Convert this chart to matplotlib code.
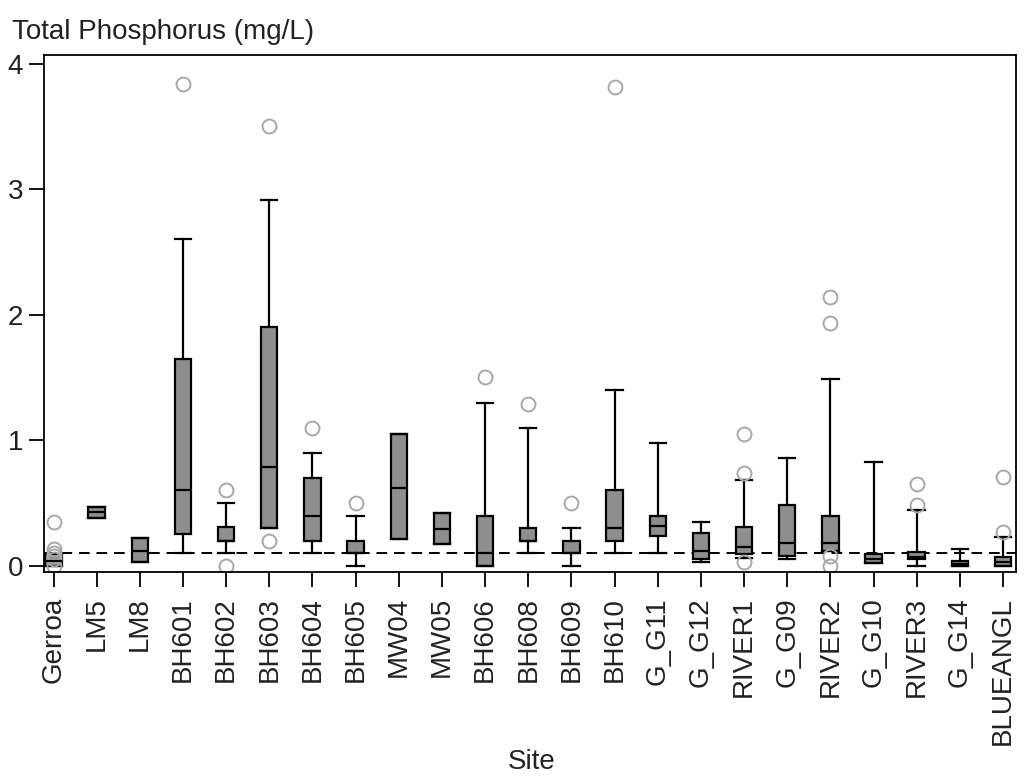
import matplotlib
matplotlib.use('Agg')
import matplotlib.pyplot as plt

plt.rcParams['font.family'] = ['Liberation Sans', 'DejaVu Sans']

sites = ['Gerroa', 'LM5', 'LM8', 'BH601', 'BH602', 'BH603', 'BH604', 'BH605',
         'MW04', 'MW05', 'BH606', 'BH608', 'BH609', 'BH610', 'G_G11', 'G_G12',
         'RIVER1', 'G_G09', 'RIVER2', 'G_G10', 'RIVER3', 'G_G14', 'BLUEANGL']

q1 = [0.00, 0.38, 0.03, 0.25, 0.20, 0.30, 0.20, 0.10, 0.21, 0.17, 0.00, 0.20,
      0.10, 0.20, 0.24, 0.05, 0.095, 0.08, 0.12, 0.02, 0.05, 0.00, 0.00]
med = [0.04, 0.43, 0.12, 0.60, 0.20, 0.79, 0.40, 0.10, 0.62, 0.29, 0.10, 0.20,
       0.10, 0.30, 0.32, 0.12, 0.15, 0.18, 0.18, 0.05, 0.07, 0.01, 0.03]
q3 = [0.09, 0.47, 0.22, 1.65, 0.31, 1.90, 0.70, 0.20, 1.05, 0.42, 0.40, 0.30,
      0.20, 0.60, 0.40, 0.26, 0.305, 0.48, 0.40, 0.09, 0.11, 0.035, 0.07]
whis_lo = [0.00, 0.38, 0.03, 0.10, 0.10, 0.30, 0.10, 0.00, 0.21, 0.17, 0.00, 0.10,
           0.00, 0.10, 0.10, 0.03, 0.06, 0.05, 0.12, 0.02, 0.00, 0.00, 0.00]
whis_hi = [0.09, 0.47, 0.22, 2.60, 0.50, 2.91, 0.90, 0.40, 1.05, 0.42, 1.30, 1.10,
           0.30, 1.40, 0.98, 0.345, 0.68, 0.86, 1.49, 0.83, 0.44, 0.133, 0.23]
fliers = [[0.35, 0.13, 0.10, 0.08, 0.05, 0.0], [], [], [3.84], [0.60, 0.0],
          [3.50, 0.20], [1.10], [0.50], [], [], [1.50], [1.29], [0.50], [3.81],
          [], [], [1.05, 0.74, 0.03], [], [2.14, 1.93, 0.08, 0.0], [],
          [0.65, 0.48], [], [0.71, 0.265]]

guideline = 0.1

stats = []
for i, name in enumerate(sites):
    stats.append(dict(label=name, q1=q1[i], med=med[i], q3=q3[i],
                      whislo=whis_lo[i], whishi=whis_hi[i], fliers=fliers[i]))

fig = plt.figure(figsize=(10.33, 7.78), dpi=100, facecolor='white')
ax = fig.add_axes([0.0426, 0.2648, 0.9409, 0.6639])

ax.bxp(stats, positions=range(len(sites)), widths=0.38, patch_artist=True,
       boxprops=dict(facecolor='#8e8e8e', edgecolor='black', linewidth=1.6),
       medianprops=dict(color='black', linewidth=1.6),
       whiskerprops=dict(color='black', linewidth=1.6),
       capprops=dict(color='black', linewidth=1.6),
       capwidths=0.38,
       flierprops=dict(marker='o', markerfacecolor='none', markeredgecolor='#a8a8a8',
                       markersize=10, markeredgewidth=1.4))

# dashed guideline
ax.axhline(guideline, color='black', linewidth=1.4, linestyle=(0, (5.5, 3.5)), zorder=0.5)

ax.set_xlim(-0.22, len(sites) - 1 + 0.3)
ax.set_ylim(-0.05, 4.065)
ax.set_yticks([0, 1, 2, 3, 4])
ax.set_xticks(range(len(sites)))
ax.set_xticklabels(sites, rotation=90, fontsize=20, color='#222222')
ax.tick_params(axis='y', labelsize=20, length=11, width=1.3, pad=4, labelcolor='#222222')
ax.tick_params(axis='x', length=11, width=1.3, pad=7)
for s in ax.spines.values():
    s.set_linewidth(1.3)

fig.text(0.012, 0.959, 'Total Phosphorus (mg/L)', fontsize=20, color='#222222',
         ha='left', va='center')
fig.text(0.515, 0.02, 'Site', fontsize=20, color='#222222', ha='center', va='center')

fig.savefig('out.png', dpi=100, facecolor='white')
